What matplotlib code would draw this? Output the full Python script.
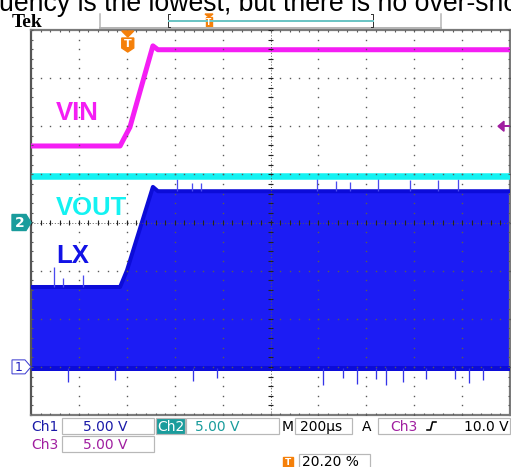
import matplotlib
matplotlib.use('Agg')
import matplotlib.pyplot as plt
from matplotlib.patches import Rectangle, Polygon
import numpy as np

W, H = 511, 467

# ---------------- data (time in µs, level in screen divisions) ----------------
time_per_div = 200          # M 200µs
n_xdiv, n_ydiv = 10, 8
trigger_pos_pct = 20.20     # T 20.20 %
trigger_level_div = 2.0     # Ch3 10.0 V at 5.00 V/div

vin_t = [0, 372, 413, 509, 530, 2000]
vin_v = [1.59, 1.59, 1.98, 3.67, 3.59, 3.59]

vout_t = [0, 2000]
vout_v = [0.97, 0.97]

lx_t = [0, 372, 401, 509, 530, 2000]
lx_top = [-1.34, -1.34, -0.99, 0.74, 0.65, 0.65]
lx_bottom = [-3.02, -3.02, -3.02, -3.02, -3.02, -3.02]

lx_up_spike_t = [96, 134, 217, 610, 672, 710, 1194, 1273, 1332, 1449, 1582, 1699, 1783]
lx_up_spike_v = [-0.93, -1.15, -1.09, 0.90, 0.82, 0.82, 0.93, 0.86, 0.84, 0.93, 0.88, 0.88, 0.90]
lx_dn_spike_t = [154, 351, 676, 777, 1219, 1303, 1361, 1440, 1482, 1553, 1649, 1770, 1829, 1887]
lx_dn_spike_v = [-3.32, -3.28, -3.30, -3.24, -3.38, -3.24, -3.36, -3.26, -3.38, -3.32, -3.26, -3.26, -3.34, -3.28]

ch1_ground_div = -3.0
ch2_ground_div = 0.0

trace_labels = ['VIN', 'VOUT', 'LX']
ch_settings = [('Ch1', '5.00 V'), ('Ch2', '5.00 V'), ('Ch3', '5.00 V')]
timebase_label = '200µs'
trigger_label = ('Ch3', '10.0 V')
trigger_pos_label = '20.20 %'
title_text = 'uency is the lowest, but there is no over-shoot'

# ---------------- colours ----------------
MAG = '#f41ef4'
CYAN = '#14f2f2'
BLUE = '#1c1cf4'
BLUE_D = '#0c0cd8'
TEAL = '#1a9c9c'
PURP = '#a01ea0'
ORANGE = '#f5800a'
GRID = '#5a5a5a'
PX = 0.72  # points per pixel at 100 dpi

fig = plt.figure(figsize=(W / 100, H / 100), dpi=100)
fig.patch.set_facecolor('white')

L, R, T, B = 31, 510, 30, 415
ax = fig.add_axes([L / W, 1 - B / H, (R - L) / W, (B - T) / H])
xmax = n_xdiv * time_per_div
ax.set_xlim(0, xmax)
ax.set_ylim(-n_ydiv / 2, n_ydiv / 2)
ax.set_xticks([]); ax.set_yticks([])
for s in ax.spines.values():
    s.set_color('#7a7a7a'); s.set_linewidth(1.6)
ax.spines['left'].set_color('#555555')

# ---- traces ----
ax.fill_between(lx_t, lx_bottom, lx_top, color=BLUE, lw=0, zorder=2)
ax.plot(lx_t, lx_top, color=BLUE_D, lw=4 * PX, zorder=3, solid_capstyle='butt')
ax.plot(lx_t, lx_bottom, color=BLUE_D, lw=5 * PX, zorder=3, solid_capstyle='butt')
ax.vlines(lx_up_spike_t, np.interp(lx_up_spike_t, lx_t, lx_top), lx_up_spike_v,
          color='#4a4af0', lw=1.3 * PX, zorder=3)
ax.vlines(lx_dn_spike_t, np.interp(lx_dn_spike_t, lx_t, lx_bottom), lx_dn_spike_v,
          color='#3434e8', lw=1.3 * PX, zorder=3)
ax.plot(vout_t, vout_v, color=CYAN, lw=6.5 * PX, zorder=3, solid_capstyle='butt')
ax.plot(vin_t, vin_v, color=MAG, lw=5 * PX, zorder=3, solid_capstyle='butt')

# ---- graticule ----
dy = 0.2
dx = time_per_div / 5
yd = np.arange(-n_ydiv / 2, n_ydiv / 2 + 1e-9, dy)
xd = np.arange(0, xmax + 1e-9, dx)
for k in range(1, n_xdiv):
    ax.plot(np.full_like(yd, k * time_per_div), yd, ls='none', marker='s', ms=1.0,
            mew=0, color=GRID, zorder=5)
for k in range(-n_ydiv // 2 + 1, n_ydiv // 2):
    ax.plot(xd, np.full_like(xd, k), ls='none', marker='s', ms=1.0, mew=0,
            color=GRID, zorder=5)
# centre lines with fine dots and ticks
ax.plot([0, xmax], [0, 0], color=GRID, lw=0.7, ls=(0, (1, 2)), zorder=5)
ax.plot([xmax / 2, xmax / 2], [-4, 4], color=GRID, lw=0.7, ls=(0, (1, 2)), zorder=5)
ax.vlines(xd, -0.05, 0.05, color='#222222', lw=0.8, zorder=5)
ax.hlines(yd, xmax / 2 - 10, xmax / 2 + 10, color='#222222', lw=0.8, zorder=5)
# border ticks
ax.vlines(xd, 4 - 0.05, 4, color=GRID, lw=0.8, zorder=5)
ax.vlines(xd, -4, -4 + 0.05, color=GRID, lw=0.8, zorder=5)
ax.hlines(yd, 0, 10, color=GRID, lw=0.8, zorder=5)
ax.hlines(yd, xmax - 10, xmax, color=GRID, lw=0.8, zorder=5)

# ---------------- overlay (pixel coordinates) ----------------
ov = fig.add_axes([0, 0, 1, 1], facecolor='none')
ov.set_xlim(0, W); ov.set_ylim(H, 0); ov.axis('off')

def t2x(t):
    return L + (R - L) * t / xmax

def d2y(d):
    return (T + B) / 2 - (B - T) / n_ydiv * d

# title fragment (clipped at top)
ov.text(-1, 11, title_text, fontsize=19.2, family='Liberation Sans', ha='left',
        va='baseline', color='black')
ov.text(12, 27, 'Tek', fontsize=14, family='Liberation Serif', weight='bold',
        ha='left', va='baseline', color='black')

# record-view bar
ov.plot([100, 441], [28, 28], color='#b4b4b4', lw=2 * PX)
ov.plot([100, 100], [14, 28], color='#b4b4b4', lw=1.5 * PX)
ov.plot([441, 441], [14, 28], color='#b4b4b4', lw=1.5 * PX)
ov.plot([170, 168, 168, 170], [14, 14, 27, 27], color='#333333', lw=1 * PX)
ov.plot([371, 373, 373, 371], [14, 14, 27, 27], color='#333333', lw=1 * PX)
ov.plot([169, 373], [21, 21], color='#6cc4c4', lw=2 * PX)
ov.add_patch(Polygon([[205, 14], [213, 14], [209, 17]], closed=True, color=ORANGE))
ov.add_patch(Rectangle((206, 17), 6, 10, color=ORANGE))
ov.text(209, 22.5, 'T', fontsize=5.5, color='white', weight='bold', ha='center', va='center')

# trigger position marker
tx = t2x(xmax * trigger_pos_pct / 100)
ov.add_patch(Polygon([[tx - 6, 31], [tx + 6, 31], [tx, 37]], closed=True, color=ORANGE, zorder=10))
ov.add_patch(Polygon([[tx - 6, 38], [tx + 6, 38], [tx + 6, 48], [tx, 52], [tx - 6, 48]],
                     closed=True, color=ORANGE, zorder=10))
ov.text(tx, 44, 'T', fontsize=8, color='white', weight='bold', ha='center', va='center', zorder=11)

# trigger level arrow (right)
ty = d2y(trigger_level_div)
ov.add_patch(Polygon([[498, ty], [504, ty - 5], [504, ty + 5]], closed=True, color=PURP, zorder=10))
ov.plot([503, 509], [ty, ty], color=PURP, lw=2 * PX, zorder=10)

# channel ground markers
y2 = d2y(ch2_ground_div)
ov.add_patch(Polygon([[12, y2 - 8], [26, y2 - 8], [31, y2], [26, y2 + 8], [12, y2 + 8]],
                     closed=True, color=TEAL, zorder=10))
ov.text(19.5, y2 + 0.5, '2', fontsize=10, color='white', weight='bold', ha='center', va='center', zorder=11)
y1 = d2y(ch1_ground_div)
ov.add_patch(Polygon([[12, y1 - 7], [25, y1 - 7], [31, y1], [25, y1 + 7], [12, y1 + 7]],
                     closed=True, facecolor='white', edgecolor='#3a3ad0', lw=1 * PX, zorder=10))
ov.text(18.5, y1 + 0.5, '1', fontsize=9, color='#2020c0', ha='center', va='center', zorder=11)

# trace labels
lab_kw = dict(fontsize=18.5, family='Liberation Sans', weight='bold', ha='left', va='baseline')
ov.text(56, 120, trace_labels[0], color=MAG, **lab_kw)
ov.text(56, 215, trace_labels[1], color=CYAN, **lab_kw)
ov.text(56, 263, trace_labels[2], color='#1212e6', **lab_kw)

# bottom status area
FS = 10
def box(x0, y0, x1, y1, fc='white'):
    ov.add_patch(Rectangle((x0, y0), x1 - x0, y1 - y0, facecolor=fc, edgecolor='#b8b8b8', lw=1.2 * PX))

CH1C, CH2C, CH3C = '#1a1aa8', TEAL, PURP
ov.text(31, 431, ch_settings[0][0], color=CH1C, fontsize=FS, ha='left', va='baseline')
box(62, 418, 154, 434)
ov.text(83, 431, ch_settings[0][1], color=CH1C, fontsize=FS, ha='left', va='baseline')
box(156, 418, 185, 434, fc=TEAL)
ov.text(157, 431, ch_settings[1][0], color='white', fontsize=FS, ha='left', va='baseline')
box(186, 418, 279, 434)
ov.text(195, 431, ch_settings[1][1], color=CH2C, fontsize=FS, ha='left', va='baseline')
ov.text(282, 431, 'M', color='black', fontsize=FS, ha='left', va='baseline')
box(295, 418, 352, 434)
ov.text(300, 431, timebase_label, color='black', fontsize=FS, ha='left', va='baseline')
ov.text(362, 431, 'A', color='black', fontsize=FS, ha='left', va='baseline')
box(378, 418, 510, 434)
ov.text(390, 431, trigger_label[0], color=CH3C, fontsize=FS, ha='left', va='baseline')
ov.plot([427, 430.5, 432.5, 436], [430, 430, 422, 422], color='black', lw=1.6 * PX)
ov.text(509, 431, trigger_label[1], color='black', fontsize=FS, ha='right', va='baseline')

ov.text(31, 449, ch_settings[2][0], color=CH3C, fontsize=FS, ha='left', va='baseline')
box(62, 436, 154, 452)
ov.text(83, 449, ch_settings[2][1], color=CH3C, fontsize=FS, ha='left', va='baseline')

ov.add_patch(Rectangle((283, 457), 10, 10, color=ORANGE))
ov.text(288, 462.5, 'T', fontsize=6.5, color='white', weight='bold', ha='center', va='center')
box(299, 454, 370, 470)
ov.text(302, 466, trigger_pos_label, color='black', fontsize=FS, ha='left', va='baseline')

fig.savefig('out.png', dpi=100)
